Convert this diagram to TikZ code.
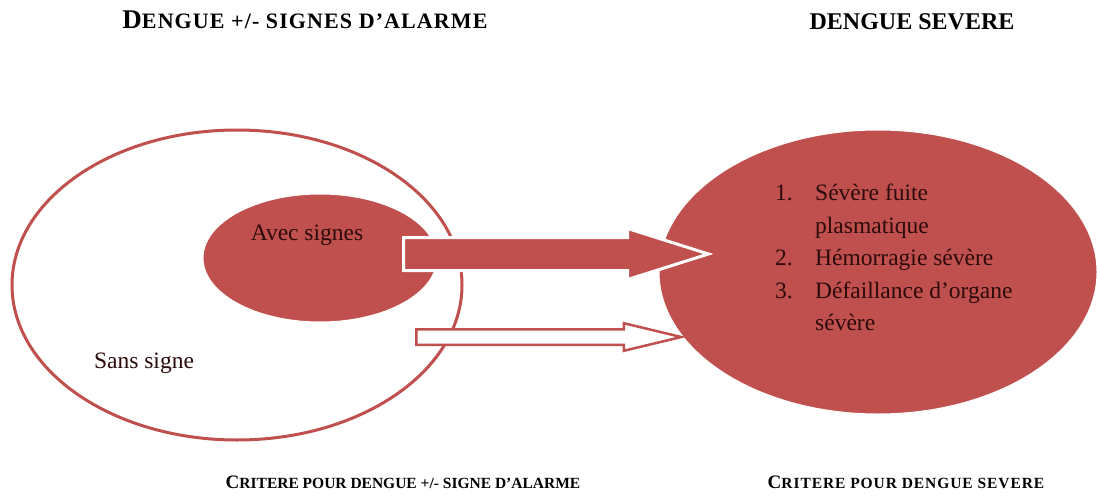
\documentclass[tikz,border=0pt]{standalone}
\usepackage{fontspec}
\setmainfont{Liberation Serif}
\usepackage{xcolor}
\usepackage{tikz}
\usetikzlibrary{positioning}
\usetikzlibrary{shapes.geometric, shapes.arrows}
\definecolor{dred}{HTML}{C0504D}
\definecolor{dtext}{HTML}{2B0B0B}
\newcommand{\sz}[2]{{\fontsize{#1}{#1}\selectfont #2}}
\newcommand{\szsp}[3]{{\fontsize{#1}{#1}\selectfont\addfontfeature{LetterSpace=#2}#3}}
\tikzstyle{ring} = [ellipse, draw=dred, line width=3pt, fill=white, inner sep=0pt]
\tikzstyle{blob} = [ellipse, draw=white, line width=1pt, fill=dred, inner sep=0pt]
\tikzstyle{fatarrow} = [single arrow, fill=dred, draw=white, line width=3pt, inner xsep=0pt, inner ysep=15pt, minimum width=0pt, single arrow head extend=9pt, single arrow tip angle=35]
\tikzstyle{thinarrow} = [single arrow, fill=white, draw=dred, line width=2.5pt, inner xsep=0pt, inner ysep=6.5pt, minimum width=0pt, single arrow head extend=6pt, single arrow tip angle=27]
\tikzstyle{label} = [text=dtext, font=\fontsize{23.5}{32.5}\selectfont, inner sep=0pt]
\tikzstyle{heading} = [font=\bfseries, text=black, inner sep=0pt]

\begin{document}
\begin{tikzpicture}[x=1pt, y=-1pt]
    \useasboundingbox (0,0) rectangle (1097,495);
    % ellipses
    \node(sans)[ring, minimum width=450pt, minimum height=310pt] at (237,285) {};
    \node(avec)[blob, minimum width=234pt, minimum height=128pt] at (320,258) {};
    \node(severe)[blob, minimum width=438pt, minimum height=284pt] at (878,272) {};
    \node(avectxt)[label] at (307,235) {Avec signes};
    \node(sanstxt)[label] at (144,363) {Sans signe};
    \node(liste)[label, anchor=north west] at (775,178) {\begin{tabular}{@{}p{40pt}@{}l@{}}
        1. & Sévère fuite\\
           & plasmatique\\
        2. & Hémorragie sévère\\
        3. & Défaillance d’organe\\
           & sévère
      \end{tabular}};
    %
    \node(grosse)[fatarrow, minimum height=305pt, anchor=tail] at (402,254) {};
    \node(fine)[thinarrow, minimum height=265pt, anchor=tail] at (415,337) {};
    %
    \node(ttlalarme)[heading] at (305,20) {\sz{27}{D}\szsp{22}{5}{ENGUE +/- SIGNES D’ALARME}};
    \node(ttlsevere)[heading] at (912,22) {\sz{24}{DENGUE SEVERE}};
    \node(critalarme)[heading] at (403,482) {\sz{19}{C}\sz{15.5}{RITERE POUR DENGUE +/- SIGNE D’ALARME}};
    \node(critsevere)[heading] at (906,482) {\sz{19}{C}\szsp{15.5}{6}{RITERE POUR DENGUE SEVERE}};
\end{tikzpicture}
\end{document}
